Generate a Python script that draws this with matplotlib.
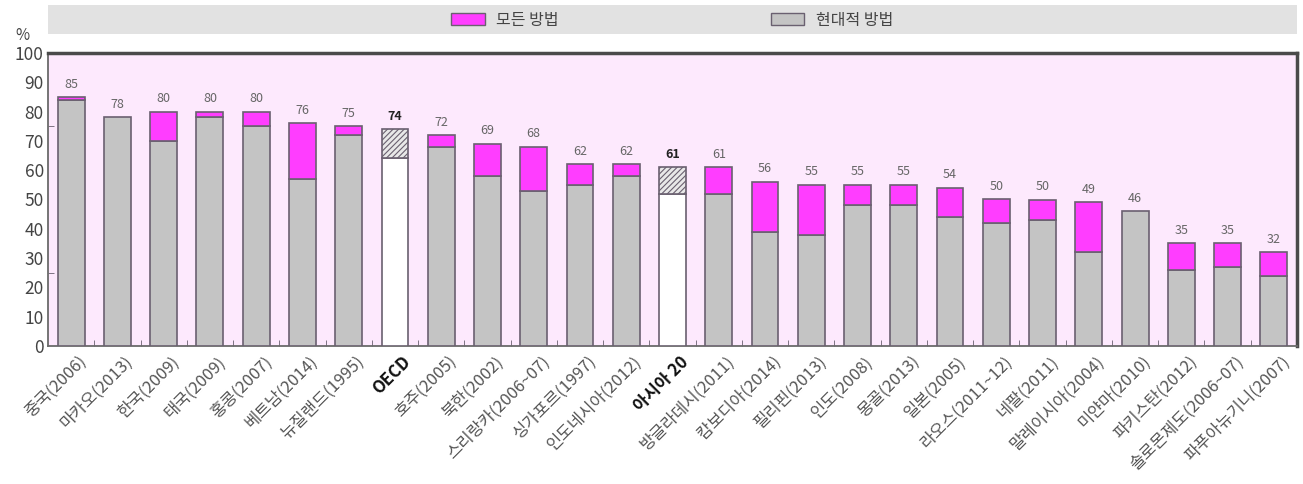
import matplotlib
matplotlib.use("Agg")
import matplotlib.pyplot as plt
from matplotlib.patches import Patch, Rectangle
from matplotlib.ticker import MultipleLocator, FixedLocator
import matplotlib.transforms as mtransforms
import numpy as np

plt.rcParams['font.family'] = ['Noto Sans CJK KR', 'DejaVu Sans']
plt.rcParams['hatch.color'] = '#707070'
plt.rcParams['hatch.linewidth'] = 0.8

categories = ['중국(2006)', '마카오(2013)', '한국(2009)', '태국(2009)', '홍콩(2007)',
              '베트남(2014)', '뉴질랜드(1995)', 'OECD', '호주(2005)', '북한(2002)',
              '스리랑카(2006~07)', '싱가포르(1997)', '인도네시아(2012)', '아시아 20',
              '방글라데시(2011)', '캄보디아(2014)', '필리핀(2013)', '인도(2008)',
              '몽골(2013)', '일본(2005)', '라오스(2011~12)', '네팔(2011)',
              '말레이시아(2004)', '미얀마(2010)', '파키스탄(2012)', '솔로몬제도(2006~07)',
              '파푸아뉴기니(2007)']
all_methods = [85, 78, 80, 80, 80, 76, 75, 74, 72, 69, 68, 62, 62, 61, 61, 56, 55, 55,
               55, 54, 50, 50, 49, 46, 35, 35, 32]
modern_methods = [84, 78, 70, 78, 75, 57, 72, 64, 68, 58, 53, 55, 58, 52, 52, 39, 38, 48,
                  48, 44, 42, 43, 32, 46, 26, 27, 24]
aggregates = ['OECD', '아시아 20']

MAGENTA = '#FF3DFF'
GREY = '#C4C4C4'
EDGE = '#6A6070'
BG = '#FDE9FD'

fig = plt.figure(figsize=(13.03, 4.84), dpi=100)
ax = fig.add_axes([48/1303, 1-346/484, (1297-48)/1303, (346-53)/484])
ax.set_facecolor(BG)

x = np.arange(len(categories))
w = 0.58
for i, (c, tot, mod) in enumerate(zip(categories, all_methods, modern_methods)):
    agg = c in aggregates
    ax.bar(i, mod, width=w, color='white' if agg else GREY, edgecolor=EDGE, linewidth=1.2, zorder=3)
    if tot > mod:
        if agg:
            ax.bar(i, tot - mod, bottom=mod, width=w, color='#E8E8E8', edgecolor=EDGE,
                   linewidth=1.2, hatch='//////', zorder=3)
        else:
            ax.bar(i, tot - mod, bottom=mod, width=w, color=MAGENTA, edgecolor=EDGE,
                   linewidth=1.2, zorder=3)
    ax.text(i, tot + 2.2, str(tot), ha='center', va='bottom', fontsize=9,
            color='#222222' if agg else '#666666', fontweight='bold' if agg else 'normal',
            zorder=4)

ax.set_xlim(-0.5, len(categories) - 0.5)
ax.set_ylim(0, 100)
ax.yaxis.set_major_locator(MultipleLocator(10))
ax.yaxis.set_minor_locator(FixedLocator([25, 50, 75]))
ax.tick_params(axis='y', which='major', length=0, labelsize=12.5, labelcolor='#444444', pad=3)
ax.tick_params(axis='y', which='minor', length=4, direction='in', color=EDGE)
ax.set_xticks(x)
ax.set_xticks(x + 0.5, minor=True)
ax.tick_params(axis='x', which='major', length=0, pad=5)
ax.tick_params(axis='x', which='minor', length=4, direction='in', color=EDGE)
labels = ax.set_xticklabels(categories, rotation=45, ha='right', va='top',
                            rotation_mode='anchor', fontsize=12)
offset = mtransforms.ScaledTranslation(7/100, 0, fig.dpi_scale_trans)
for lab in labels:
    lab.set_transform(lab.get_transform() + offset)
    if lab.get_text() in aggregates:
        lab.set_fontweight('bold')
        lab.set_color('#111111')
    else:
        lab.set_color('#555555')

for side in ['left', 'bottom']:
    ax.spines[side].set_color('#6A6A6A')
    ax.spines[side].set_linewidth(1.3)
for side in ['top', 'right']:
    ax.spines[side].set_color('#4A4A4A')
    ax.spines[side].set_linewidth(2.5)

fig.text(22/1303, 1-36/484, '%', fontsize=11, color='#444444', ha='center', va='center')

# legend band
fig.patches.append(Rectangle((48/1303, 1-34/484), (1297-48)/1303, 29/484,
                             transform=fig.transFigure, facecolor='#E2E2E2',
                             edgecolor='none', zorder=0))
handles = [Patch(facecolor=MAGENTA, edgecolor=EDGE, label='모든 방법'),
           Patch(facecolor=GREY, edgecolor=EDGE, label='현대적 방법')]
leg = fig.legend(handles=handles, loc='center', bbox_to_anchor=(672/1303, 1-20/484),
                 ncol=2, frameon=False, fontsize=11.5, handlelength=2.1, handleheight=0.8,
                 handletextpad=0.7, columnspacing=13.3)
for t in leg.get_texts():
    t.set_color('#444444')

fig.savefig('out.png', dpi=100)
